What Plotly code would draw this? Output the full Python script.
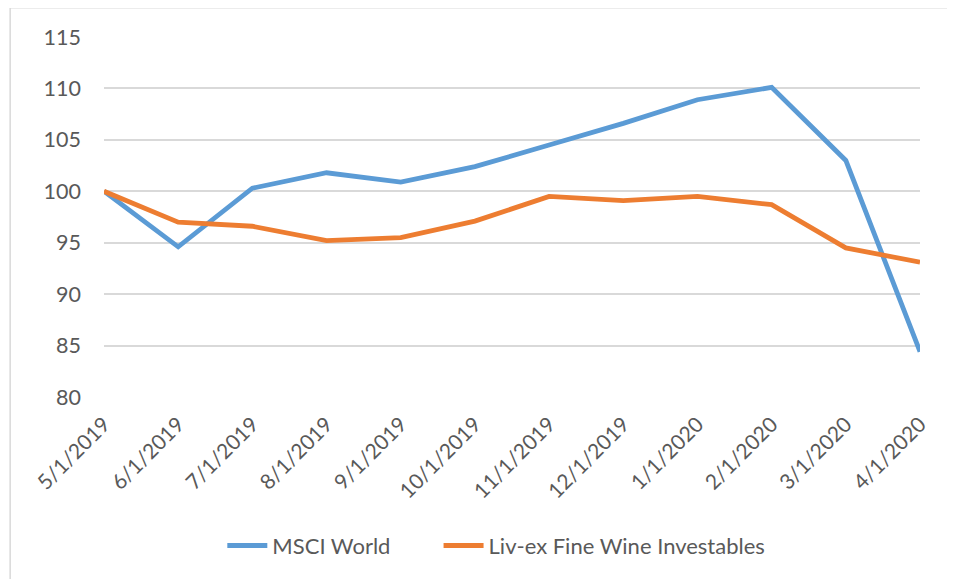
import plotly.graph_objects as go

dates = ["5/1/2019", "6/1/2019", "7/1/2019", "8/1/2019", "9/1/2019", "10/1/2019",
         "11/1/2019", "12/1/2019", "1/1/2020", "2/1/2020", "3/1/2020", "4/1/2020"]
msci_world = [100.0, 94.6, 100.3, 101.8, 100.9, 102.4, 104.5, 106.6, 108.9, 110.1, 103.0, 84.4]
livex_wine = [100.0, 97.0, 96.6, 95.2, 95.5, 97.1, 99.5, 99.1, 99.5, 98.7, 94.5, 93.1]
y_ticks = [80, 85, 90, 95, 100, 105, 110, 115]

FONT = "Lato"
TXT = "#595959"

fig = go.Figure()
fig.add_trace(go.Scatter(x=list(range(len(dates))), y=msci_world, mode="lines",
                         name="MSCI World", line=dict(color="#5B9BD5", width=4.8),
                         legend="legend"))
fig.add_trace(go.Scatter(x=list(range(len(dates))), y=livex_wine, mode="lines",
                         name="Liv-ex Fine Wine Investables", line=dict(color="#ED7D31", width=4.8),
                         legend="legend2"))

leg_common = dict(orientation="h", xanchor="left", y=-0.413, yanchor="middle",
                  font=dict(size=22, color=TXT), itemwidth=40, bgcolor="rgba(0,0,0,0)")

fig.update_layout(
    width=955, height=579,
    margin=dict(l=96, r=43, t=29, b=190),
    paper_bgcolor="white", plot_bgcolor="white",
    font=dict(family=FONT, color=TXT, size=21),
    showlegend=True,
    legend=dict(x=0.145, **leg_common),
    legend2=dict(x=0.41, **leg_common),
    shapes=[dict(type="rect", xref="paper", yref="paper", x0=-0.115, x1=1.08, y0=-0.7, y1=1.0815,
                 line=dict(color="#d9d9d9", width=1.5), fillcolor="rgba(0,0,0,0)", layer="below")],
)
fig.update_xaxes(range=[0, len(dates) - 1], tickmode="array", tickvals=list(range(len(dates))),
                 ticktext=dates, tickangle=-45, showgrid=False, zeroline=False, showline=False,
                 ticks="", ticklabelstandoff=10, tickfont=dict(size=21, color=TXT))
fig.update_yaxes(range=[80, 115], tickmode="array", tickvals=y_ticks, showgrid=True,
                 gridcolor="#d9d9d9", gridwidth=1.5, zeroline=False, showline=False, ticks="",
                 ticklabelstandoff=22, tickfont=dict(size=21.5, color=TXT))

fig.write_html("out.html")
